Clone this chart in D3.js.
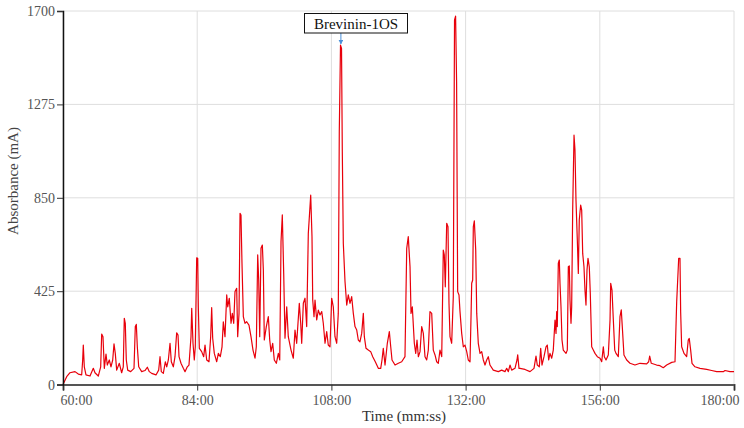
<!DOCTYPE html>
<html><head><meta charset="utf-8">
<script src="https://cdn.jsdelivr.net/npm/d3@7"></script>
<style>
body{margin:0;background:#fff;}
svg{display:block;font-family:"Liberation Serif","Times New Roman",serif;}
</style></head>
<body>
<svg id="c" width="744" height="428"></svg>
<script>
const xTicks = [60, 84, 108, 132, 156, 180];
const yTicks = [0, 425, 850, 1275, 1700];
const annotationLabel = "Brevinin-1OS";
const annotationTime = 109.7;
const annotationValue = 1545;

const times = [60.00,60.66,61.25,62.15,62.74,63.34,63.52,63.63,63.81,64.11,64.83,65.42,65.72,66.31,66.74,66.92,67.15,67.39,67.69,67.92,68.28,68.58,68.89,69.12,69.35,69.60,70.07,70.49,70.78,70.96,71.14,71.32,71.57,72.11,72.70,72.93,73.11,73.29,73.54,74.07,74.66,75.08,75.44,75.86,76.63,77.11,77.35,77.58,77.94,78.30,78.55,78.84,79.14,79.37,79.73,80.03,80.33,80.57,80.75,81.10,81.52,81.82,82.23,82.53,82.89,83.02,83.25,83.48,83.66,83.91,84.09,84.20,84.38,84.80,85.16,85.40,85.70,86.11,86.41,86.59,86.77,87.06,87.49,87.78,88.13,88.44,88.67,88.97,89.28,89.46,89.74,90.05,90.28,90.53,90.76,91.06,91.24,91.48,91.66,91.83,92.01,92.25,92.55,92.85,93.26,93.62,93.98,94.34,94.57,94.82,95.00,95.18,95.41,95.65,95.83,96.00,96.36,96.72,96.97,97.20,97.50,97.79,98.15,98.51,98.76,98.99,99.22,99.47,99.70,100.01,100.29,100.78,101.19,101.49,101.79,102.26,102.51,102.69,102.98,103.28,103.58,103.87,104.30,104.53,104.66,104.89,105.07,105.37,105.66,105.96,106.27,106.55,106.86,107.16,107.44,107.75,108.05,108.34,108.64,108.95,109.23,109.41,109.63,109.81,109.95,110.13,110.43,110.74,111.02,111.33,111.63,111.92,112.22,112.53,112.81,113.11,113.42,113.71,113.89,114.19,114.60,115.03,115.39,115.85,116.39,116.82,117.05,117.28,117.59,118.00,118.36,118.61,118.84,119.38,119.97,120.57,121.16,121.47,121.75,122.06,122.24,122.47,122.83,123.08,123.31,123.55,123.85,124.15,124.44,124.74,125.04,125.33,125.63,125.94,126.22,126.53,126.83,127.12,127.42,127.73,128.01,128.19,128.37,128.62,128.85,129.03,129.21,129.51,129.80,130.02,130.21,130.39,130.58,130.82,131.00,131.30,131.59,131.89,132.20,132.48,132.79,132.97,133.09,133.27,133.38,133.56,133.81,133.99,134.27,134.58,134.88,135.17,135.47,135.77,136.06,136.36,136.95,137.85,138.45,139.05,139.35,139.64,139.94,140.24,140.83,141.19,141.32,141.55,141.73,142.62,143.52,144.23,144.59,144.82,145.18,145.43,145.66,146.02,146.38,146.61,146.86,147.09,147.40,147.68,147.99,148.17,148.29,148.40,148.58,148.76,148.88,149.06,149.24,149.47,149.96,150.19,150.37,150.55,150.67,150.85,150.97,151.15,151.39,151.56,151.74,151.98,152.16,152.33,152.58,152.76,152.94,153.17,153.35,153.53,153.71,153.89,154.12,154.30,154.55,154.84,155.14,155.56,156.04,156.34,156.63,156.81,157.11,157.52,157.83,157.95,158.18,158.42,158.67,158.90,159.31,159.61,159.84,160.02,160.32,160.81,161.40,162.29,163.19,164.38,164.74,164.92,165.21,166.17,166.76,167.35,167.96,168.86,169.45,169.75,170.11,170.34,170.46,170.64,171.06,171.53,171.82,172.00,172.25,172.49,173.02,173.92,175.11,176.01,176.90,178.09,178.39,179.28,180.00];

const absorbance = [0,36,54,59,48,44,112,180,81,44,39,74,54,39,81,230,218,74,139,89,112,81,112,185,142,66,97,54,81,302,279,112,66,59,74,264,274,172,81,59,64,79,59,51,44,66,127,59,51,104,81,112,188,104,81,127,236,225,127,97,74,59,81,89,218,347,188,112,172,577,575,354,165,150,127,180,112,104,218,350,211,142,104,142,127,172,286,218,408,354,393,279,324,279,423,438,218,324,779,772,552,309,279,286,271,218,157,120,172,590,476,218,620,635,521,203,264,309,203,150,188,112,97,142,112,650,772,506,211,354,218,157,120,248,188,370,279,188,370,393,264,688,862,673,385,309,385,294,339,317,332,279,188,241,180,172,393,354,218,188,324,1150,1545,1530,1060,643,470,362,408,370,400,324,264,248,203,195,233,324,218,165,157,150,127,104,74,74,112,165,89,188,241,172,112,89,97,104,127,620,673,536,324,354,188,142,203,127,150,264,233,127,112,157,332,324,157,135,104,97,157,127,612,590,445,734,718,370,218,188,400,1660,1677,1378,423,408,332,233,172,180,150,112,104,309,461,476,718,745,612,324,188,142,150,112,89,112,127,89,66,59,66,59,74,59,89,66,74,112,135,74,74,69,59,74,130,89,81,165,89,127,172,180,112,142,120,157,294,233,332,264,552,567,461,354,203,157,142,157,536,540,385,279,354,794,1135,1067,840,658,506,749,817,794,597,536,430,362,521,575,536,415,172,157,142,127,120,104,172,127,112,135,294,461,430,294,157,142,127,309,340,264,135,112,97,89,97,94,104,130,97,89,86,77,89,101,104,377,575,575,330,172,142,127,203,210,157,97,81,74,69,64,59,59,64,59,59];

const plotLeft = 63, plotRight = 734, plotTop = 11, plotBottom = 384.6;
const svg = d3.select("#c");
const x = d3.scaleLinear().domain([60, 180]).range([plotLeft, plotRight]);
const y = d3.scaleLinear().domain([0, 1700]).range([plotBottom, plotTop]);
const fmt = m => String(Math.floor(m)).padStart(2, "0") + ":" + String(Math.round((m % 1) * 60)).padStart(2, "0");

// grid
const grid = svg.append("g");
grid.selectAll("line.v").data(xTicks).join("line").attr("class", "v")
  .attr("x1", d => x(d)).attr("x2", d => x(d)).attr("y1", plotTop).attr("y2", plotBottom)
  .attr("stroke", "#dedede").attr("stroke-width", 1);
grid.selectAll("line.h").data(yTicks).join("line").attr("class", "h")
  .attr("x1", plotLeft).attr("x2", plotRight).attr("y1", d => y(d)).attr("y2", d => y(d))
  .attr("stroke", "#dedede").attr("stroke-width", 1);

// line
const n = Math.min(times.length, absorbance.length);
const data = d3.range(n).map(i => ({t: times[i], v: absorbance[i]}));
svg.append("path").datum(data)
  .attr("fill", "none").attr("stroke", "#e8000b").attr("stroke-width", 1.2)
  .attr("stroke-linejoin", "round")
  .attr("d", d3.line().x(d => x(d.t)).y(d => y(d.v)).curve(d3.curveLinear));

// axes
const xAxis = svg.append("g").attr("transform", `translate(0,${plotBottom})`)
  .call(d3.axisBottom(x).tickValues(xTicks).tickFormat(fmt).tickSize(6).tickPadding(4));
xAxis.select(".domain").attr("stroke", "#555").attr("stroke-width", 2);
xAxis.selectAll(".tick line").attr("stroke", "#333");
xAxis.selectAll("text").attr("fill", "#555").style("font-size", "14px").style("font-family", "Liberation Serif");
xAxis.selectAll(".tick text").filter(d => d === xTicks[0]).attr("text-anchor", "start").attr("dx", -3);
xAxis.selectAll(".tick text").filter(d => d === xTicks[xTicks.length - 1]).attr("text-anchor", "end").attr("dx", 5);

const yAxis = svg.append("g").attr("transform", `translate(${plotLeft},0)`)
  .call(d3.axisLeft(y).tickValues(yTicks).tickFormat(d3.format("d")).tickSize(6).tickPadding(2));
yAxis.select(".domain").attr("stroke", "#111").attr("stroke-width", 1.5);
yAxis.selectAll(".tick line").attr("stroke", "#333");
yAxis.selectAll("text").attr("fill", "#555").style("font-size", "14px").style("font-family", "Liberation Serif");

// axis titles
svg.append("text").attr("x", 404).attr("y", 421).attr("text-anchor", "middle")
  .attr("fill", "#333").style("font-size", "15px").text("Time (mm:ss)");
svg.append("text").attr("transform", "translate(18,181) rotate(-90)").attr("text-anchor", "middle")
  .attr("fill", "#444").style("font-size", "15px").text("Absorbance (mA)");

// annotation
const ax = x(annotationTime), ay = y(annotationValue);
svg.append("defs").append("marker").attr("id", "arr").attr("viewBox", "0 0 10 10")
  .attr("refX", 9).attr("refY", 5).attr("markerWidth", 5).attr("markerHeight", 5).attr("orient", "auto")
  .append("path").attr("d", "M0,0L10,5L0,10z").attr("fill", "#4a90d9");
svg.append("line").attr("x1", ax).attr("x2", ax).attr("y1", 33).attr("y2", ay - 1)
  .attr("stroke", "#4a90d9").attr("stroke-width", 1).attr("marker-end", "url(#arr)");
svg.append("rect").attr("x", 304.5).attr("y", 13.5).attr("width", 103).attr("height", 19.5)
  .attr("fill", "#fff").attr("stroke", "#111").attr("stroke-width", 1);
svg.append("text").attr("x", 356).attr("y", 28.5).attr("text-anchor", "middle")
  .attr("fill", "#111").style("font-size", "15px").text(annotationLabel);
</script>
</body></html>
